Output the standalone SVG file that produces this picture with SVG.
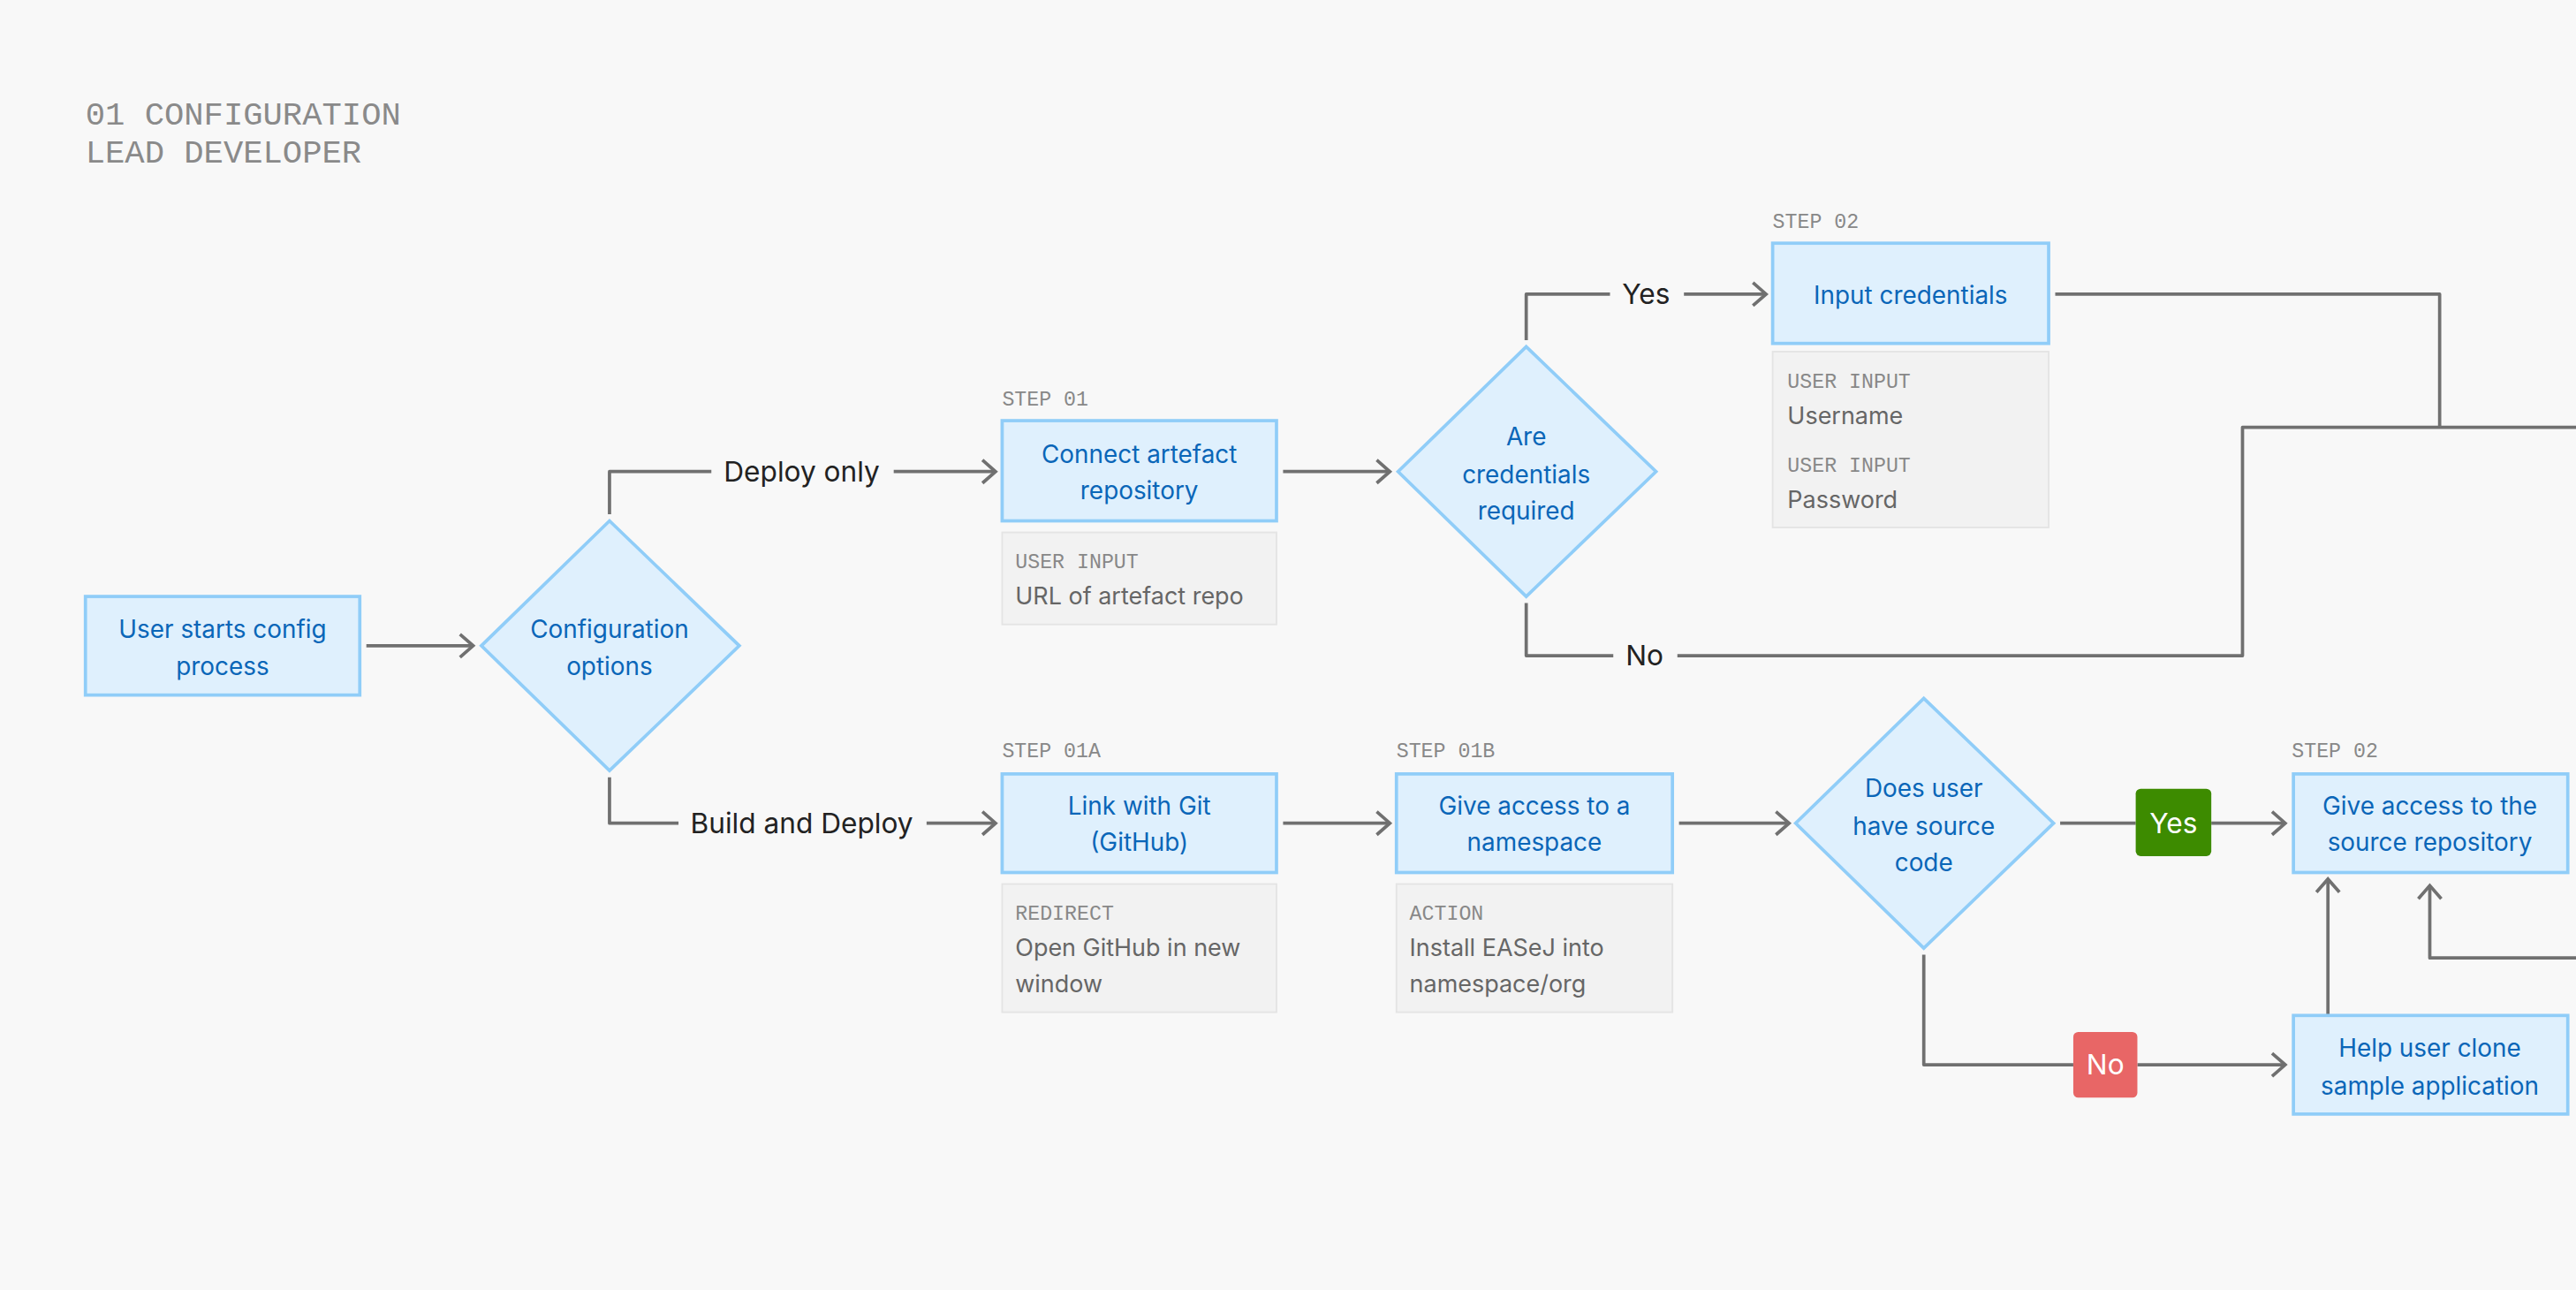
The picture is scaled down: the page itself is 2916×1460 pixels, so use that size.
<svg xmlns="http://www.w3.org/2000/svg" width="2916" height="1460" viewBox="0 0 2916 1460">
<style>
.n{fill:#dff0fd;stroke:#90cdf8;stroke-width:2}
.i{fill:#f2f2f2;stroke:#e4e4e4;stroke-width:1}
.t{font-family:Inter,"Liberation Sans",sans-serif;font-size:15px;fill:#0a66b8;text-anchor:middle}
.m{font-family:"Liberation Mono","DejaVu Sans Mono",monospace;font-size:12.5px;fill:#888}
.d{font-family:Inter,"Liberation Sans",sans-serif;font-size:14.5px;fill:#666}
.l{font-family:Inter,"Liberation Sans",sans-serif;font-size:17px;fill:#222;text-anchor:middle}
.b{font-family:Inter,"Liberation Sans",sans-serif;font-size:17px;fill:#fff;text-anchor:middle}
.c{fill:none;stroke:#707070;stroke-width:2;stroke-linejoin:round}
.h{font-family:"Liberation Mono","DejaVu Sans Mono",monospace;font-size:20px;fill:#8a8a8a}
</style>
<defs>
<marker id="a" markerUnits="userSpaceOnUse" markerWidth="12" markerHeight="18" refX="9" refY="8" orient="auto">
<path d="M1,1 L9,8 L1,15" fill="none" stroke="#707070" stroke-width="2"/>
</marker>
</defs>
<rect width="2916" height="1460" fill="#f8f8f8"/>
<g transform="scale(1.8597)">
<g id="title">
<text class="h" x="52" y="76">01 CONFIGURATION</text>
<text class="h" x="52" y="99">LEAD DEVELOPER</text>
</g>
<g id="connectors">
<path class="c" d="M223,393 H288" marker-end="url(#a)"/>
<path class="c" d="M371,313 V287 H433"/>
<path class="c" d="M544,287 H606" marker-end="url(#a)"/>
<path class="c" d="M371,473 V501 H413"/>
<path class="c" d="M564,501 H606" marker-end="url(#a)"/>
<path class="c" d="M781,287 H846" marker-end="url(#a)"/>
<path class="c" d="M929,207 V179 H980"/>
<path class="c" d="M1025,179 H1075" marker-end="url(#a)"/>
<path class="c" d="M929,367 V399 H982"/>
<path class="c" d="M1021,399 H1365 V260 H1568"/>
<path class="c" d="M1251,179 H1485 V260"/>
<path class="c" d="M781,501 H846" marker-end="url(#a)"/>
<path class="c" d="M1022,501 H1089" marker-end="url(#a)"/>
<path class="c" d="M1254,501 H1300"/>
<path class="c" d="M1346,501 H1391" marker-end="url(#a)"/>
<path class="c" d="M1171,581 V648 H1262"/>
<path class="c" d="M1301,648 H1391" marker-end="url(#a)"/>
<path class="c" d="M1417,618 V535" marker-end="url(#a)"/>
<path class="c" d="M1568,583 H1479 V539" marker-end="url(#a)"/>
<text class="l" x="488" y="293">Deploy only</text>
<text class="l" x="488" y="507">Build and Deploy</text>
<text class="l" x="1002" y="185">Yes</text>
<text class="l" x="1001" y="405">No</text>
<rect x="1300" y="480" width="46" height="41" rx="3" fill="#3d8b00"/>
<text class="b" x="1323" y="507">Yes</text>
<rect x="1262" y="628" width="39" height="40" rx="3" fill="#e86666"/>
<text class="b" x="1281.5" y="654">No</text>
</g>
<g id="start">
<rect class="n" x="52" y="363" width="167" height="60"/>
<text class="t" x="135.5" y="388">User starts config</text>
<text class="t" x="135.5" y="411">process</text>
</g>
<g id="config-options">
<polygon class="n" points="371,317 450,393 371,469 293,393"/>
<text class="t" x="371" y="388">Configuration</text>
<text class="t" x="371" y="411">options</text>
</g>
<g id="connect-artefact">
<text class="m" x="610" y="247">STEP 01</text>
<rect class="n" x="610" y="256" width="167" height="61"/>
<text class="t" x="693.5" y="282">Connect artefact</text>
<text class="t" x="693.5" y="304">repository</text>
<rect class="i" x="610" y="324" width="167" height="56"/>
<text class="m" x="618" y="346">USER INPUT</text>
<text class="d" x="618" y="368">URL of artefact repo</text>
</g>
<g id="credentials-required">
<polygon class="n" points="929,211 1008,287 929,363 851,287"/>
<text class="t" x="929" y="271">Are</text>
<text class="t" x="929" y="294">credentials</text>
<text class="t" x="929" y="316">required</text>
</g>
<g id="input-credentials">
<text class="m" x="1079" y="139">STEP 02</text>
<rect class="n" x="1079" y="148" width="168" height="61"/>
<text class="t" x="1163" y="185">Input credentials</text>
<rect class="i" x="1079" y="214" width="168" height="107"/>
<text class="m" x="1088" y="236">USER INPUT</text>
<text class="d" x="1088" y="258">Username</text>
<text class="m" x="1088" y="287">USER INPUT</text>
<text class="d" x="1088" y="309">Password</text>
</g>
<g id="link-git">
<text class="m" x="610" y="461">STEP 01A</text>
<rect class="n" x="610" y="471" width="167" height="60"/>
<text class="t" x="693.5" y="496">Link with Git</text>
<text class="t" x="693.5" y="518">(GitHub)</text>
<rect class="i" x="610" y="538" width="167" height="78"/>
<text class="m" x="618" y="560">REDIRECT</text>
<text class="d" x="618" y="582">Open GitHub in new</text>
<text class="d" x="618" y="604">window</text>
</g>
<g id="namespace">
<text class="m" x="850" y="461">STEP 01B</text>
<rect class="n" x="850" y="471" width="168" height="60"/>
<text class="t" x="934" y="496">Give access to a</text>
<text class="t" x="934" y="518">namespace</text>
<rect class="i" x="850" y="538" width="168" height="78"/>
<text class="m" x="858" y="560">ACTION</text>
<text class="d" x="858" y="582">Install EASeJ into</text>
<text class="d" x="858" y="604">namespace/org</text>
</g>
<g id="source-code">
<polygon class="n" points="1171,425 1250,501 1171,577 1093,501"/>
<text class="t" x="1171" y="485">Does user</text>
<text class="t" x="1171" y="508">have source</text>
<text class="t" x="1171" y="530">code</text>
</g>
<g id="source-repo">
<text class="m" x="1395" y="461">STEP 02</text>
<rect class="n" x="1396" y="471" width="167" height="60"/>
<text class="t" x="1479" y="496">Give access to the</text>
<text class="t" x="1479" y="518">source repository</text>
</g>
<g id="clone-sample">
<rect class="n" x="1396" y="618" width="167" height="60"/>
<text class="t" x="1479" y="643">Help user clone</text>
<text class="t" x="1479" y="666">sample application</text>
</g>
</g>
</svg>
